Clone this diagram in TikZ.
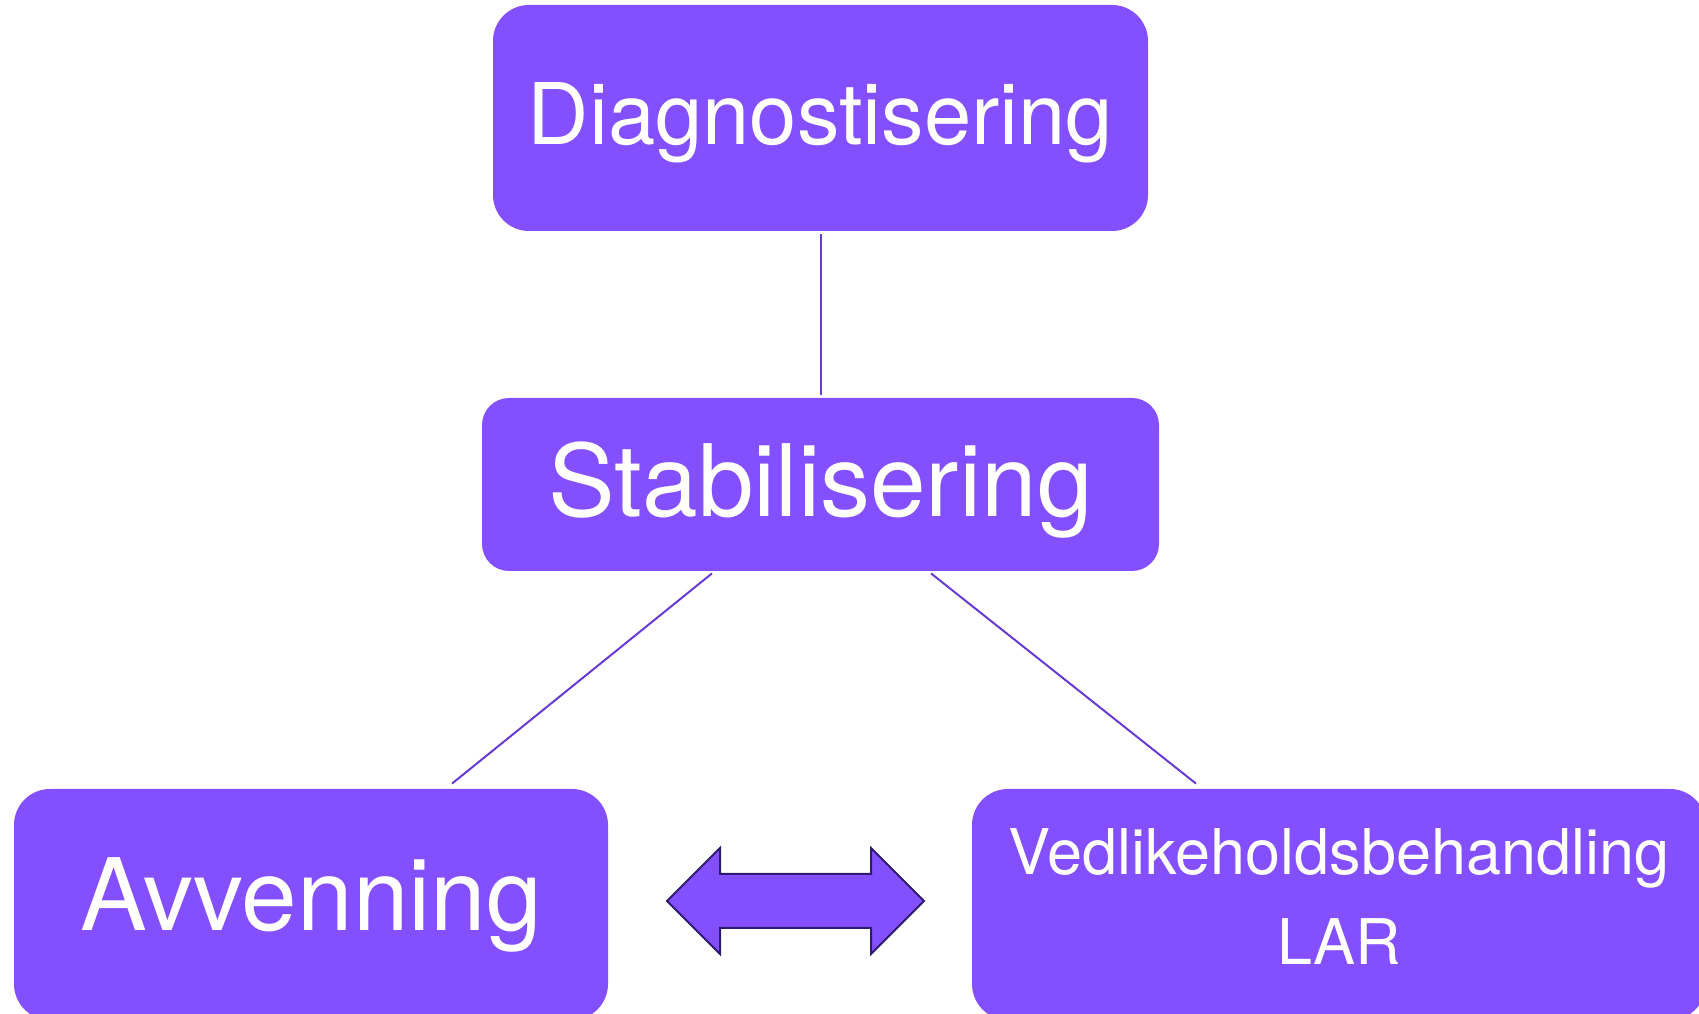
\documentclass[tikz,border=0pt]{standalone}
\usepackage{fontspec}
\setmainfont{TeX Gyre Heros}
\usepackage{xcolor}
\usepackage{tikz}
\usetikzlibrary{calc, shapes.arrows}

\definecolor{boxfill}{RGB}{132,80,255}
\definecolor{linkcol}{RGB}{104,58,214}
\definecolor{arrowline}{RGB}{46,26,110}

\begin{document}
\begin{tikzpicture}[x=0.5pt, y=0.5pt,
  box/.style={draw=none, fill=boxfill, text=white, inner sep=0pt, align=center},
  link/.style={draw=linkcol, line width=1pt}]
  % frame
  \useasboundingbox (0,0) rectangle (1699,1013);

  % top
  \node[box, rounded corners=18pt, minimum width=327.5pt, minimum height=113pt,
        font=\fontsize{42.5}{51}\selectfont] (diag) at (820.5,895)
        {\raisebox{-2.2pt}[\height][\depth]{Diagnostisering}};

  % middle
  \node[box, rounded corners=13.5pt, minimum width=338.5pt, minimum height=86.5pt,
        font=\fontsize{50}{60}\selectfont] (stab) at (820.5,528.5)
        {\raisebox{-2.7pt}[\height][\depth]{Stabilisering}};

  % bottom row
  \node[box, rounded corners=18pt, minimum width=297pt, minimum height=115.5pt,
        font=\fontsize{50}{60}\selectfont] (avv) at (311,108.5) {Avvenning};
  \node[box, rounded corners=18pt, minimum width=367pt, minimum height=115.5pt,
        font=\fontsize{31.5}{45}\selectfont] (vedl) at (1339,108.5)
        {\raisebox{1.3pt}[\height][\depth]{\begin{tabular}{@{}c@{}}Vedlikeholdsbehandling\\LAR\end{tabular}}};

  % links
  \draw[link, shorten <=1.5pt, shorten >=1.5pt] (diag.south) -- (stab.north);
  \draw[link] ($(stab.south)+(-108.5,-2)$) -- ($(avv.north)+(141,5)$);
  \draw[link] ($(stab.south)+(110.5,-2)$) -- ($(vedl.north)+(-143,5)$);

  % both ways
  \node[double arrow, draw=arrowline, line width=1pt, fill=boxfill, inner sep=13pt,
        minimum width=52pt, minimum height=128.5pt, double arrow head extend=13pt]
        (both) at (795.5,112) {};
\end{tikzpicture}
\end{document}
